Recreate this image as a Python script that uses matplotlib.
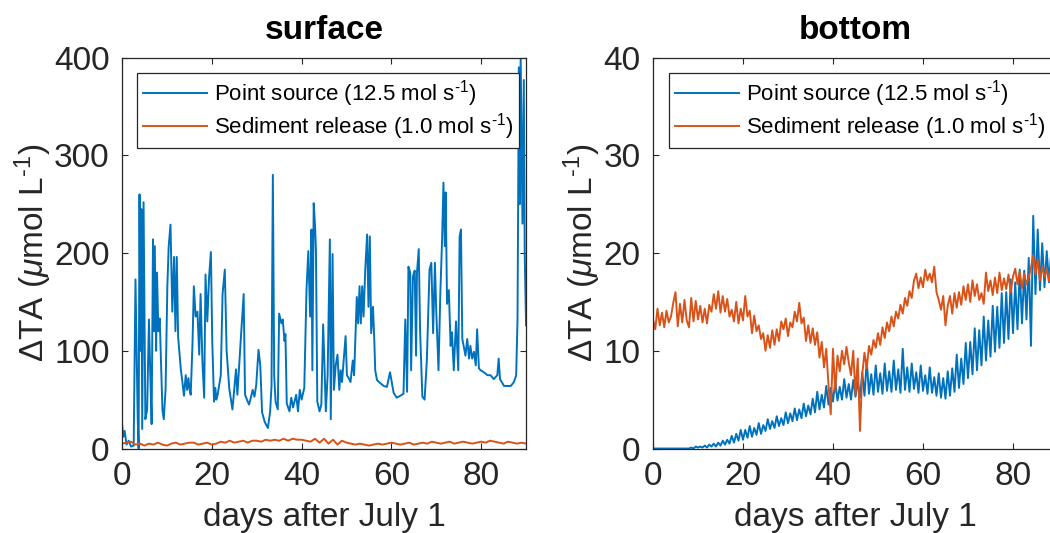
import numpy as np
import matplotlib
matplotlib.use("Agg")
import matplotlib.pyplot as plt

plt.rcParams['font.family'] = ['Liberation Sans', 'DejaVu Sans']
plt.rcParams['mathtext.fontset'] = 'custom'
plt.rcParams['mathtext.rm'] = 'Liberation Sans'
plt.rcParams['mathtext.it'] = 'Liberation Sans:italic'

# colores por defecto de MATLAB
azul = '#0072BD'
naranja = '#D95319'
gris = '#262626'

titulos = ['surface', 'bottom']
etiqueta_x = 'days after July 1'
etiqueta_y = r'$\Delta$TA ($\mu$mol L$^{\text{-1}}$)'
leyenda = [r'Point source (12.5 mol s$^{\text{-1}}$)', r'Sediment release (1.0 mol s$^{\text{-1}}$)']
xticks = [0, 20, 40, 60, 80]
yticks_sup = [0, 100, 200, 300, 400]
yticks_fondo = [0, 10, 20, 30, 40]

dias_ps_sup = [0, 0.3, 0.6, 1.0, 1.5, 2.0, 2.6, 3.0, 3.5, 3.7, 3.9, 4.1, 4.3, 4.5, 4.8, 5.2,
               5.6, 6.0, 6.3, 6.6, 6.9, 7.1, 7.3, 7.6, 7.8, 8.1, 8.4, 9.0, 9.3, 9.7, 10.1, 10.4,
               10.8, 11.2, 11.6, 11.9, 12.2, 12.5, 13.1, 13.4, 13.8, 14.2, 14.5, 14.8, 15.0, 15.3,
               15.7, 16.0, 16.4, 16.8, 17.2, 17.5, 17.9, 18.3, 18.6, 19.0, 19.4, 19.8, 20.1, 20.5,
               20.8, 21.0, 21.3, 22.0, 22.4, 22.9, 23.3, 23.9, 24.2, 24.6, 25.4, 25.7, 26.5, 27.1,
               27.4, 28.0, 28.3, 28.7, 29.1, 29.5, 29.9, 30.4, 30.8, 31.2, 31.8, 32.5, 33.0, 33.3,
               33.6, 33.9, 34.2, 34.7, 35.0, 35.5, 35.8, 36.2, 36.4, 36.7, 37.3, 37.7, 38.1, 38.8,
               39.2, 39.6, 40.0, 40.6, 41.1, 41.5, 41.9, 42.2, 42.4, 42.7, 43.0, 43.2, 43.5, 44.0,
               44.4, 44.8, 45.1, 45.4, 45.8, 46.3, 46.5, 46.9, 47.2, 47.6, 48.0, 48.4, 48.7, 49.0,
               49.8, 50.1, 50.5, 50.9, 51.4, 51.7, 52.3, 52.6, 52.9, 53.2, 53.5, 53.8, 54.2, 54.6,
               54.9, 55.2, 55.5, 55.9, 56.2, 56.4, 56.8, 57.5, 58.3, 59.0, 59.7, 60.5, 61.2, 62.0,
               62.7, 63.1, 63.5, 63.8, 64.2, 64.4, 64.8, 65.2, 65.5, 65.7, 66.1, 66.4, 66.9, 67.4,
               67.9, 68.5, 68.9, 69.3, 69.7, 70.0, 70.5, 70.9, 71.3, 71.6, 71.9, 72.1, 72.4, 72.8,
               73.2, 73.5, 73.9, 74.4, 74.9, 75.2, 75.5, 75.8, 76.1, 76.5, 76.9, 77.3, 77.6, 78.0,
               78.4, 78.8, 79.1, 79.5, 79.9, 80.6, 81.4, 82.1, 82.8, 83.6, 83.9, 84.2, 85.1, 86.6,
               87.3, 87.8, 88.1, 88.4, 88.6, 88.8, 89.2, 89.5, 89.7, 90.0]
valores_ps_sup = [25, 12, 18, 4, 8, 2, 3, 173, 30, 0, 260, 100, 245, 20, 252, 30,
                  40, 132, 76, 25, 214, 120, 207, 100, 180, 120, 133, 40, 30, 60, 166, 207,
                  229, 140, 196, 120, 196, 114, 81, 70, 54, 75, 60, 72, 62, 55,
                  107, 166, 135, 140, 96, 158, 90, 52, 178, 130, 176, 201, 110, 48,
                  62, 50, 55, 75, 158, 183, 100, 61, 52, 40, 81, 55, 115, 158,
                  55, 48, 45, 52, 60, 53, 65, 101, 85, 37, 27, 21, 38, 64,
                  280, 75, 48, 40, 138, 128, 132, 110, 117, 46, 38, 52, 42, 55,
                  38, 60, 50, 62, 163, 202, 135, 224, 80, 251, 228, 202, 48, 38,
                  45, 127, 85, 38, 75, 214, 30, 199, 60, 85, 96, 60, 80, 68,
                  115, 75, 72, 68, 90, 75, 155, 128, 166, 128, 166, 135, 185, 219,
                  145, 217, 118, 145, 110, 80, 70, 67, 64, 63, 78, 57, 52, 54,
                  56, 132, 58, 186, 180, 80, 176, 182, 95, 180, 204, 120, 53, 50,
                  90, 183, 190, 118, 190, 140, 80, 158, 214, 272, 207, 262, 148, 162,
                  105, 119, 80, 130, 80, 217, 224, 112, 105, 95, 112, 92, 105, 92,
                  99, 85, 122, 82, 80, 78, 75, 75, 71, 75, 92, 71, 64, 64,
                  68, 75, 132, 390, 250, 400, 230, 377, 200, 126]

# superficie, liberacion del sedimento (un valor por dia)
valores_sed_sup = [5, 6, 7, 4, 5, 3, 5, 4, 6, 4, 3, 5, 6, 4, 5, 6, 6, 4, 5, 6,
                   4, 5, 7, 6, 8, 6, 7, 8, 6, 8, 8, 7, 9, 8, 9, 8, 10, 8, 10, 9,
                   9, 8, 7, 10, 6, 10, 5, 9, 4, 8, 6, 5, 4, 5, 4, 3, 4, 5, 4, 5,
                   6, 5, 4, 5, 6, 4, 5, 6, 5, 7, 6, 5, 6, 7, 5, 6, 7, 6, 5, 6,
                   7, 6, 8, 7, 6, 5, 7, 6, 5, 6, 5]

# fondo, fuente puntual (cada medio dia, 5 dias por fila)
valores_ps_fondo = [0, 0, 0, 0, 0, 0, 0, 0, 0, 0,
                    0, 0, 0, 0, 0, 0, 0, 0.1, 0, 0.2,
                    0.1, 0.2, 0.1, 0.3, 0.1, 0.4, 0.2, 0.5, 0.2, 0.6,
                    0.3, 0.8, 0.4, 0.9, 0.5, 1.3, 0.6, 1.5, 0.8, 1.9,
                    0.9, 1.9, 1.1, 2.3, 1.2, 2.1, 1.4, 2.6, 1.5, 2.4,
                    1.8, 3.0, 2.0, 2.8, 2.1, 3.3, 2.3, 3.1, 2.4, 3.7,
                    2.6, 3.6, 2.8, 4.1, 2.9, 4.0, 3.1, 4.6, 3.3, 4.4,
                    3.5, 5.1, 3.7, 5.8, 4.0, 5.5, 4.2, 6.4, 4.5, 6.2,
                    4.8, 6.9, 4.9, 6.3, 5.0, 7.1, 5.2, 6.6, 5.0, 7.0,
                    5.3, 6.8, 5.2, 7.8, 5.4, 9.0, 5.6, 7.6, 5.5, 8.5,
                    5.8, 7.7, 5.6, 8.7, 5.9, 7.9, 5.8, 9.0, 6.0, 8.1,
                    5.7, 10.2, 6.0, 8.3, 5.8, 8.7, 6.1, 7.8, 5.7, 8.5,
                    5.9, 7.5, 5.6, 8.3, 5.7, 7.3, 5.4, 7.7, 5.2, 7.2,
                    5.1, 7.9, 5.4, 8.2, 5.8, 9.6, 6.2, 9.2, 6.6, 10.8,
                    7.2, 10.9, 7.6, 12.3, 8.0, 12.1, 8.5, 13.5, 9.0, 13.1,
                    9.4, 14.6, 9.9, 14.5, 10.3, 15.9, 10.8, 16.0, 11.2, 17.3,
                    11.8, 17.0, 12.2, 18.3, 12.8, 18.2, 13.2, 19.5, 10.5, 23.8,
                    15.8, 22.4, 16.2, 21.0, 16.5, 20.2, 17.0, 20.0, 17.2, 19.8,
                    18.0]

# fondo, liberacion del sedimento (cada medio dia, 5 dias por fila)
valores_sed_fondo = [13.2, 12.2, 14.3, 12.6, 13.9, 12.4, 14.1, 12.9, 13.5, 14.9,
                     16.0, 12.5, 14.8, 12.9, 15.2, 13.1, 12.4, 15.4, 13.0, 15.1,
                     13.2, 14.6, 12.9, 14.3, 12.8, 14.7, 14.0, 15.8, 14.3, 16.1,
                     13.9, 15.6, 14.0, 15.3, 13.5, 14.2, 13.0, 15.0, 12.8, 14.3,
                     13.1, 15.6, 13.5, 14.1, 11.8, 13.6, 12.0, 12.6, 11.2, 11.8,
                     10.0, 11.6, 10.3, 12.1, 10.6, 12.2, 11.0, 13.0, 12.2, 13.3,
                     11.5, 12.9, 12.4, 14.0, 13.0, 14.9, 12.8, 13.4, 11.0, 12.6,
                     10.8, 12.3, 10.6, 11.9, 9.3, 10.9, 8.3, 10.2, 6.5, 3.5,
                     10.2, 5.8, 9.5, 7.9, 10.0, 8.6, 10.4, 8.8, 7.5, 10.0,
                     5.5, 9.2, 1.8, 7.6, 9.8, 8.2, 10.5, 9.6, 11.1, 10.3,
                     11.8, 10.6, 12.4, 11.3, 12.9, 12.0, 13.5, 12.5, 14.0, 13.3,
                     14.7, 13.8, 15.4, 14.6, 16.1, 15.4, 17.2, 17.9, 16.4, 17.5,
                     16.5, 18.3, 17.2, 17.9, 17.0, 18.6, 16.0, 15.2, 14.2, 15.6,
                     12.6, 14.6, 15.6, 13.8, 15.9, 14.4, 16.0, 14.7, 16.6, 15.2,
                     16.8, 15.0, 17.2, 15.6, 16.8, 15.2, 15.9, 14.8, 18.0, 16.1,
                     17.2, 15.7, 17.5, 15.9, 18.0, 16.2, 17.4, 16.3, 17.8, 16.0,
                     17.6, 18.4, 16.8, 18.1, 16.4, 17.9, 16.8, 17.5, 18.5, 19.8,
                     17.8, 19.3, 17.2, 18.7, 17.5, 18.4, 17.1, 18.6, 17.6, 18.4,
                     18.0]

dias_sed_sup = np.arange(len(valores_sed_sup))
dias_ps_fondo = np.arange(len(valores_ps_fondo)) * 0.5
dias_sed_fondo = np.arange(len(valores_sed_fondo)) * 0.5

fig = plt.figure(figsize=(10.5, 5.33), dpi=100)
ax1 = fig.add_axes([0.1162, 0.1585, 0.3848, 0.7336])
ax2 = fig.add_axes([0.6219, 0.1585, 0.3857, 0.7336])

ax1.plot(dias_ps_sup, valores_ps_sup, color=azul, lw=1.4, label=leyenda[0])
ax1.plot(dias_sed_sup, valores_sed_sup, color=naranja, lw=1.4, label=leyenda[1])
ax2.plot(dias_ps_fondo, valores_ps_fondo, color=azul, lw=1.4, label=leyenda[0])
ax2.plot(dias_sed_fondo, valores_sed_fondo, color=naranja, lw=1.4, label=leyenda[1])

for ax, titulo, yt in [(ax1, titulos[0], yticks_sup), (ax2, titulos[1], yticks_fondo)]:
    ax.set_xlim(0, 90)
    ax.set_ylim(yt[0], yt[-1])
    ax.set_xticks(xticks)
    ax.set_yticks(yt)
    ax.tick_params(direction='in', length=4, width=0.8, colors=gris, labelsize=24,
                   top=True, right=True, pad=9)
    for s in ax.spines.values():
        s.set_color(gris)
        s.set_linewidth(0.9)
    ax.set_title(titulo, fontsize=24, fontweight='bold', pad=13)
    ax.set_xlabel(etiqueta_x, fontsize=24, color=gris, labelpad=7)
    ax.set_ylabel(etiqueta_y, fontsize=24, color=gris, labelpad=0)
    ley = ax.legend(loc='upper right', bbox_to_anchor=(1 - 7 / 404, 1 - 15 / 391),
                    borderaxespad=0, fontsize=16, frameon=True, fancybox=False,
                    framealpha=1, edgecolor=gris, handlelength=2.9, labelspacing=0.1,
                    borderpad=0.25, handletextpad=0.3)
    ley.get_frame().set_linewidth(0.9)

fig.savefig('out.png', dpi=100)
